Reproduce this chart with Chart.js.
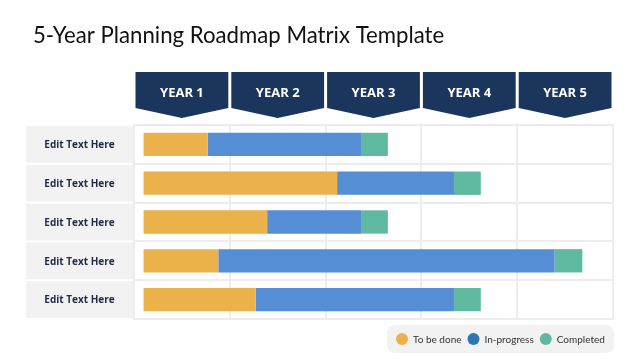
<!DOCTYPE html>
<html><head><meta charset="utf-8">
<script src="https://cdn.jsdelivr.net/npm/chart.js@4/dist/chart.umd.min.js"></script>
<style>html,body{margin:0;padding:0;background:#fff}#wrap{width:640px;height:360px}</style>
</head><body><div id="wrap"><canvas id="c" width="640" height="360"></canvas></div>
<script>
const chartTitle = "5-Year Planning Roadmap Matrix Template";
const years = ["YEAR 1", "YEAR 2", "YEAR 3", "YEAR 4", "YEAR 5"];
const rows = ["Edit Text Here", "Edit Text Here", "Edit Text Here", "Edit Text Here", "Edit Text Here"];
const seriesNames = ["To be done", "In-progress", "Completed"];
const startYear = 0.1;
const toBeDone   = [0.67, 2.02, 1.29, 0.78, 1.17];
const inProgress = [1.60, 1.22, 0.98, 3.51, 2.07];
const completed  = [0.28, 0.28, 0.28, 0.29, 0.28];
const barColors = ["#EBB14A", "#558ED5", "#5FB8A0"];
const legendColors = ["#EBB14A", "#2E75B6", "#5FB8A0"];

const series = [toBeDone, inProgress, completed];
const datasets = series.map((vals, si) => {
  const data = vals.map((v, i) => {
    let s = startYear;
    for (let k = 0; k < si; k++) s += series[k][i];
    return [s, s + v];
  });
  return {label: seriesNames[si], data, backgroundColor: barColors[si], grouped: false,
          barPercentage: 0.6, categoryPercentage: 1, borderWidth: 0};
});

const deco = {
  id: 'deco',
  beforeDraw(chart) {
    const ctx = chart.ctx, xs = chart.scales.x, ys = chart.scales.y, ca = chart.chartArea;
    ctx.save();
    ctx.fillStyle = '#fff'; ctx.fillRect(0, 0, chart.width, chart.height);
    // title
    ctx.fillStyle = '#111';
    ctx.font = '22.2px Lato, "Open Sans", sans-serif';
    ctx.textBaseline = 'alphabetic'; ctx.textAlign = 'left';
    ctx.fillText(chartTitle, 33, 43);
    // header chevrons
    years.forEach((y, i) => {
      const l = xs.getPixelForValue(i) + 1.5, r = xs.getPixelForValue(i + 1) - 1.5;
      const top = 72, side = 108, tip = 118, m = (l + r) / 2;
      ctx.fillStyle = '#1B365D';
      ctx.beginPath(); ctx.moveTo(l, top); ctx.lineTo(r, top); ctx.lineTo(r, side);
      ctx.lineTo(m, tip); ctx.lineTo(l, side); ctx.closePath(); ctx.fill();
      ctx.fillStyle = '#fff'; ctx.font = 'bold 13px "Open Sans", sans-serif';
      ctx.textAlign = 'center'; ctx.textBaseline = 'middle';
      ctx.fillText(y, m, 93);
    });
    // row label boxes
    const n = rows.length, rh = (ca.bottom - ca.top) / n;
    rows.forEach((lab, i) => {
      const cy = ys.getPixelForValue(i);
      ctx.fillStyle = '#F2F2F2';
      ctx.fillRect(26, cy - rh / 2 + 1, ca.left - 27, rh - 2);
      ctx.fillStyle = '#1F2A44'; ctx.font = 'bold 10px "Open Sans", sans-serif';
      ctx.textAlign = 'center'; ctx.textBaseline = 'middle';
      ctx.fillText(lab, (26 + ca.left - 1) / 2, cy + 1);
    });
    // legend box
    const lx = 387, ly = 325, lw = 227, lh = 28, rr = 8;
    ctx.fillStyle = '#F2F2F2';
    ctx.beginPath(); ctx.roundRect(lx, ly, lw, lh, rr); ctx.fill();
    ctx.font = '10px Lato, "Open Sans", sans-serif'; ctx.textAlign = 'left'; ctx.textBaseline = 'middle';
    let cx = 402;
    seriesNames.forEach((nm, i) => {
      ctx.fillStyle = legendColors[i];
      ctx.beginPath(); ctx.arc(cx, 339, 6, 0, Math.PI * 2); ctx.fill();
      ctx.fillStyle = '#333';
      ctx.fillText(nm, cx + 11, 339.5);
      cx += 11 + ctx.measureText(nm).width + 12;
    });
    ctx.restore();
  },
  afterDraw(chart) {
    const ctx = chart.ctx, ca = chart.chartArea;
    ctx.save(); ctx.strokeStyle = '#EDEDED'; ctx.lineWidth = 2;
    ctx.strokeRect(ca.left, ca.top, ca.right - ca.left, ca.bottom - ca.top);
    ctx.restore();
  }
};

new Chart(document.getElementById('c'), {
  type: 'bar',
  data: {labels: rows, datasets},
  options: {
    indexAxis: 'y', responsive: false, animation: false,
    layout: {padding: {left: 134, top: 125, right: 27, bottom: 41}},
    plugins: {legend: {display: false}, title: {display: false}, tooltip: {enabled: false}},
    scales: {
      x: {min: 0, max: 5, ticks: {display: false, stepSize: 1},
          grid: {color: '#EDEDED', lineWidth: 2, drawTicks: false}, border: {display: false}},
      y: {ticks: {display: false}, grid: {color: '#EDEDED', lineWidth: 2, drawTicks: false, offset: true},
          border: {display: false}}
    }
  },
  plugins: [deco]
});
</script></body></html>
